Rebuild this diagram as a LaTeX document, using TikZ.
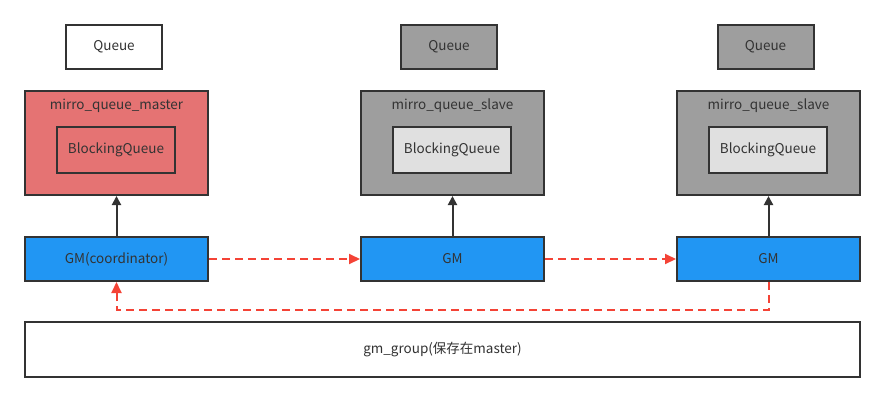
\documentclass[tikz,border=0pt]{standalone}
\usepackage{fontspec}
\setmainfont{Noto Sans CJK SC}
\usetikzlibrary{arrows.meta}
\definecolor{bordc}{HTML}{333333}
\definecolor{masterc}{HTML}{E57373}
\definecolor{greyc}{HTML}{9E9E9E}
\definecolor{lightc}{HTML}{E0E0E0}
\definecolor{bluec}{HTML}{2196F3}
\definecolor{redc}{HTML}{F44336}
\tikzset{
  txt/.style={text=bordc, font=\fontsize{13.5}{16}\selectfont},
  box/.style={draw=bordc, line width=2pt, txt, inner sep=0pt},
  blackarrow/.style={draw=bordc, line width=2pt, -{Triangle[length=9pt,width=9pt]}},
  redarrow/.style={draw=redc, line width=2pt, dash pattern=on 8pt off 5pt, -{Triangle[length=11pt,width=10pt]}},
}
\begin{document}
\begin{tikzpicture}[x=1pt,y=-1pt]
\useasboundingbox (0,0) rectangle (885,402);
% Queues
\node[box, fill=white, minimum width=96pt, minimum height=44pt] (q1) at (114,47) {Queue};
\node[box, fill=greyc, minimum width=96pt, minimum height=44pt] (q2) at (449,47) {Queue};
\node[box, fill=greyc, minimum width=96pt, minimum height=44pt] (q3) at (765.5,47) {Queue};
% big boxes
\node[box, fill=masterc, minimum width=183pt, minimum height=104pt] (m1) at (116.5,143) {};
\node[box, fill=greyc, minimum width=183pt, minimum height=104pt] (m2) at (452.5,143) {};
\node[box, fill=greyc, minimum width=183pt, minimum height=104pt] (m3) at (768.5,143) {};
\node[txt] (l1) at (116.5,106) {mirro\_queue\_master};
\node[txt] (l2) at (452.5,106) {mirro\_queue\_slave};
\node[txt] (l3) at (768.5,106) {mirro\_queue\_slave};
\node[box, fill=masterc, minimum width=118pt, minimum height=46pt] (b1) at (116,150) {BlockingQueue};
\node[box, fill=lightc, minimum width=118pt, minimum height=46pt] (b2) at (452,150) {BlockingQueue};
\node[box, fill=lightc, minimum width=118pt, minimum height=46pt] (b3) at (768,150) {BlockingQueue};
% GM
\node[box, fill=bluec, minimum width=183pt, minimum height=44pt] (g1) at (116.5,259) {GM(coordinator)};
\node[box, fill=bluec, minimum width=183pt, minimum height=44pt] (g2) at (452.5,259) {GM};
\node[box, fill=bluec, minimum width=183pt, minimum height=44pt] (g3) at (768.5,259) {GM};
% group
\node[box, fill=white, minimum width=835pt, minimum height=55pt] (gg) at (442.5,349.5) {gm\_group(保存在master)};
% arrows
\draw[blackarrow] (g1.north) -- (m1.south);
\draw[blackarrow] (g2.north) -- (m2.south);
\draw[blackarrow] (g3.north) -- (m3.south);
\draw[redarrow] (g1.east) -- (g2.west);
\draw[redarrow] (g2.east) -- (g3.west);
\coordinate (c1) at (768.5,310);
\coordinate (c2) at (116.5,310);
\draw[redarrow] (g3.south) -- (c1) -- (c2) -- (g1.south);
\end{tikzpicture}
\end{document}
